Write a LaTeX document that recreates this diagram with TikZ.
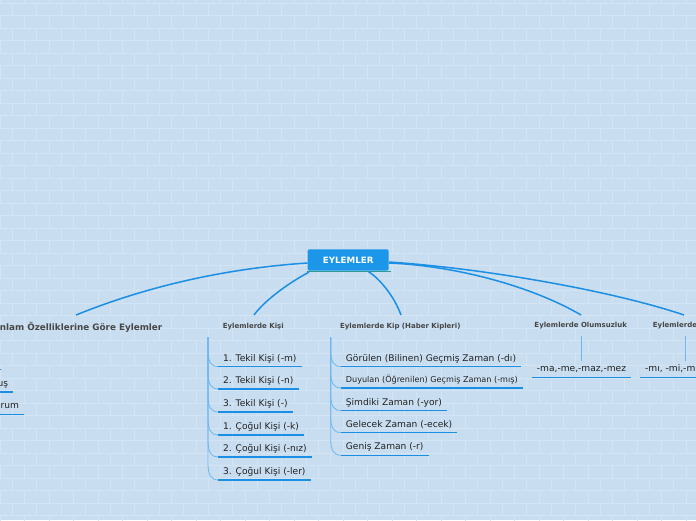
\documentclass[tikz,border=0pt]{standalone}
\usepackage{fontspec}
\setmainfont{DejaVu Sans}
\usetikzlibrary{calc}
\definecolor{bg}{HTML}{C8DDF0}
\definecolor{brick}{HTML}{D3E5F5}
\definecolor{mainblue}{HTML}{1A8FE3}
\definecolor{rootblue}{HTML}{1B96E8}
\definecolor{tealline}{HTML}{2E9C94}
\definecolor{subblue}{HTML}{6CB8EE}
\definecolor{hdrgray}{HTML}{474747}
\definecolor{txt}{HTML}{222222}
\begin{document}
\begin{tikzpicture}[x=1pt,y=-1pt,
  branch/.style={draw=mainblue, line width=1.5pt},
  sub/.style={draw=subblue, line width=0.8pt},
  uline/.style={draw=mainblue, line width=1.3pt},
  hdr/.style={font=\fontsize{7}{8}\selectfont\bfseries, text=hdrgray, inner sep=0pt, text height=5.1pt, text depth=0pt},
  bighdr/.style={font=\fontsize{8.8}{10}\selectfont\bfseries, text=hdrgray, inner sep=0pt, text height=6.4pt, text depth=0pt},
  item/.style={font=\fontsize{9.1}{10}\selectfont, text=txt, inner xsep=5pt, inner ysep=3.3pt, text height=7pt, text depth=2pt},
  smallitem/.style={font=\fontsize{8.1}{9}\selectfont, text=txt, inner xsep=5pt, inner ysep=3.3pt, text height=6.2pt, text depth=1.8pt},
  rootbox/.style={fill=rootblue, rounded corners=2pt, minimum width=81pt, minimum height=21.4pt, inner sep=0pt, text=white, font=\fontsize{8.7}{10}\selectfont\bfseries},
]
\useasboundingbox (0,0) rectangle (696,520);
\clip (0,0) rectangle (696,520);
\fill[bg] (0,0) rectangle (696,520);
% brick wall
\foreach \r in {-1,...,42}{
  \pgfmathsetmacro\yy{3.3+12.5*\r}
  \draw[brick, line width=0.7pt] (0,\yy) -- (696,\yy);
  \pgfmathsetmacro\off{mod(\r+1,2)*12.25}
  \foreach \c in {0,...,29}{
    \draw[brick, line width=0.7pt] (\off+24.5*\c,\yy) -- ++(0,12.5);
  }
}

% root
\node[rootbox] (root) at (348.2,260) {EYLEMLER};
\draw[tealline, line width=1.4pt] ($(root.south west)+(-1,0.8)$) -- ($(root.south east)+(2,0.8)$);

% headers
\node[bighdr, anchor=east] (anH) at (162.5,327.5) {Anlam Özelliklerine Göre Eylemler};
\node[hdr] (kiH) at (253.3,326) {Eylemlerde Kişi};
\node[hdr] (kpH) at (400.3,326) {Eylemlerde Kip (Haber Kipleri)};
\node[hdr] (olH) at (580.7,325.3) {Eylemlerde Olumsuzluk};
\node[hdr, anchor=west] (soH) at (652.7,325.3) {Eylemlerde Soru};

% branch end coordinates
\coordinate (anTop) at (76,315);
\coordinate (kiTop) at (254,315);
\coordinate (kpTop) at (401,315);
\coordinate (olTop) at (581,315);
\coordinate (soTop) at (684,315);

% main branches
\draw[branch] ($(root.west)+(0,3)$) .. controls (230,268) and (150,285) .. (anTop);
\draw[branch] ($(root.south west)+(1.5,1.3)$) .. controls (290,282) and (265,300) .. (kiTop);
\draw[branch] ($(root.south)+(20,0.5)$) .. controls (380,279) and (394,296) .. (kpTop);
\draw[branch] ($(root.east)+(0,3)$) .. controls (460,266) and (535,288) .. (olTop);
\draw[branch] ($(root.east)+(0,2)$) .. controls (480,268) and (610,290) .. (soTop);

% vertical origins of sub-branches
\coordinate (anV) at (-27,337);
\coordinate (kiV) at (208,337);
\coordinate (kpV) at (330.7,337);
\coordinate (olV) at (581,336);
\coordinate (soV) at (685,336);

% Anlam children
\node[item, anchor=south west] (a1) at (-17.3,369.3) {İş};
\node[item, anchor=south west] (a2) at (-17.3,392) {Oluş};
\node[item, anchor=south west] (a3) at (-17.3,414.3) {Durum};

% Kisi children
\node[item, anchor=south west] (k1) at (218,366.7) {1. Tekil Kişi (-m)};
\node[item, anchor=south west] (k2) at (218,389) {2. Tekil Kişi (-n)};
\node[item, anchor=south west] (k3) at (218,412) {3. Tekil Kişi (-)};
\node[item, anchor=south west] (k4) at (218,435) {1. Çoğul Kişi (-k)};
\node[item, anchor=south west] (k5) at (218,457) {2. Çoğul Kişi (-nız)};
\node[item, anchor=south west] (k6) at (218,480) {3. Çoğul Kişi (-ler)};

% Kip children
\node[item, anchor=south west] (p1) at (340.7,366.7) {Görülen (Bilinen) Geçmiş Zaman (-dı)};
\node[smallitem, anchor=south west] (p2) at (340.7,388) {Duyulan (Öğrenilen) Geçmiş Zaman (-mış)};
\node[item, anchor=south west] (p3) at (340.7,410.7) {Şimdiki Zaman (-yor)};
\node[item, anchor=south west] (p4) at (340.7,432.7) {Gelecek Zaman (-ecek)};
\node[item, anchor=south west] (p5) at (340.7,455.3) {Geniş Zaman (-r)};

% Olumsuzluk / Soru children
\node[item, anchor=south] (o1) at (581.5,377.3) {-ma,-me,-maz,-mez};
\node[item, anchor=south west] (s1) at (640,377.3) {-mı, -mi,-mu,-mü};

% sub connectors (curved)
\foreach \v/\n in {anV/a1,anV/a2,anV/a3,kiV/k1,kiV/k2,kiV/k3,kiV/k4,kiV/k5,kiV/k6,kpV/p1,kpV/p2,kpV/p3,kpV/p4,kpV/p5}{
  \draw[sub] (\v) -- ($(\v|-\n.south west)+(0,-16)$) .. controls ($(\v|-\n.south west)+(0,-4)$) and ($(\n.south west)+(-6,0)$) .. (\n.south west);
}
\draw[sub] (olV) -- (olV|-o1.north);
\draw[sub] (soV) -- (soV|-s1.north);

% underlines
\foreach \n in {a1,a2,a3,k1,k2,k3,k4,k5,k6,p1,p2,p3,p4,p5,o1,s1}{
  \draw[uline] (\n.south west) -- (\n.south east);
}
\end{tikzpicture}
\end{document}
